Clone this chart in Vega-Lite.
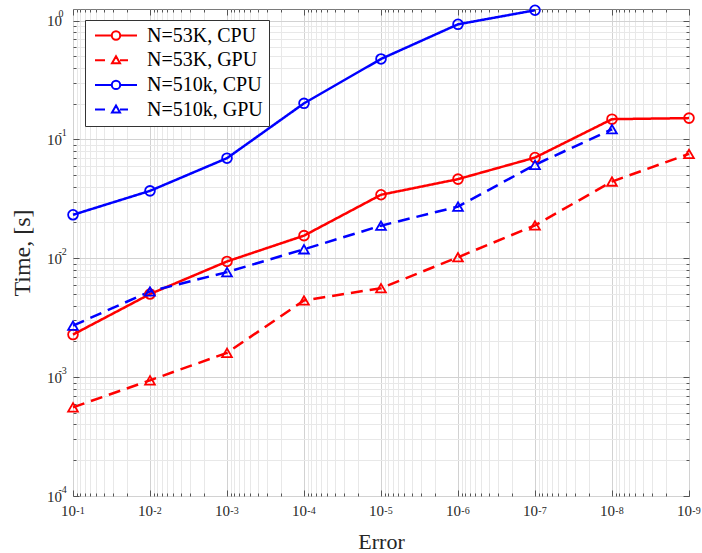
{
  "$schema": "https://vega.github.io/schema/vega-lite/v6.json",
  "width": 616,
  "height": 487,
  "autosize": {"type": "none"},
  "padding": {"left": 73, "top": 9, "right": 13, "bottom": 57},
  "background": "white",
  "config": {
    "view": {"stroke": "#7a7a7a", "strokeWidth": 1},
    "axis": {"labelFont": "Liberation Serif", "titleFont": "Liberation Serif", "labelColor": "#262626", "titleColor": "#262626", "titleFontWeight": "normal", "labelFlush": false, "labelOverlap": false, "labelBound": false, "domain": false}
  },
  "data": {"values": [
    {"series": "N=53K, CPU", "err": 1e-1, "time": 0.00228},
    {"series": "N=53K, CPU", "err": 1e-2, "time": 0.0050},
    {"series": "N=53K, CPU", "err": 1e-3, "time": 0.0094},
    {"series": "N=53K, CPU", "err": 1e-4, "time": 0.0155},
    {"series": "N=53K, CPU", "err": 1e-5, "time": 0.0342},
    {"series": "N=53K, CPU", "err": 1e-6, "time": 0.0463},
    {"series": "N=53K, CPU", "err": 1e-7, "time": 0.0703},
    {"series": "N=53K, CPU", "err": 1e-8, "time": 0.148},
    {"series": "N=53K, CPU", "err": 1e-9, "time": 0.151},
    {"series": "N=53K, GPU", "err": 1e-1, "time": 0.000557},
    {"series": "N=53K, GPU", "err": 1e-2, "time": 0.00094},
    {"series": "N=53K, GPU", "err": 1e-3, "time": 0.0016},
    {"series": "N=53K, GPU", "err": 1e-4, "time": 0.00442},
    {"series": "N=53K, GPU", "err": 1e-5, "time": 0.0056},
    {"series": "N=53K, GPU", "err": 1e-6, "time": 0.0102},
    {"series": "N=53K, GPU", "err": 1e-7, "time": 0.0189},
    {"series": "N=53K, GPU", "err": 1e-8, "time": 0.0442},
    {"series": "N=53K, GPU", "err": 1e-9, "time": 0.0755},
    {"series": "N=510k, CPU", "err": 1e-1, "time": 0.0232},
    {"series": "N=510k, CPU", "err": 1e-2, "time": 0.0369},
    {"series": "N=510k, CPU", "err": 1e-3, "time": 0.0695},
    {"series": "N=510k, CPU", "err": 1e-4, "time": 0.201},
    {"series": "N=510k, CPU", "err": 1e-5, "time": 0.475},
    {"series": "N=510k, CPU", "err": 1e-6, "time": 0.929},
    {"series": "N=510k, CPU", "err": 1e-7, "time": 1.22},
    {"series": "N=510k, GPU", "err": 1e-1, "time": 0.00271},
    {"series": "N=510k, GPU", "err": 1e-2, "time": 0.00526},
    {"series": "N=510k, GPU", "err": 1e-3, "time": 0.00765},
    {"series": "N=510k, GPU", "err": 1e-4, "time": 0.0119},
    {"series": "N=510k, GPU", "err": 1e-5, "time": 0.0188},
    {"series": "N=510k, GPU", "err": 1e-6, "time": 0.0272},
    {"series": "N=510k, GPU", "err": 1e-7, "time": 0.0611},
    {"series": "N=510k, GPU", "err": 1e-8, "time": 0.1217}
  ]},
  "layer": [
    {
      "mark": {"type": "line", "strokeWidth": 2.5},
      "encoding": {
        "x": {"field": "err", "type": "quantitative",
          "scale": {"type": "log", "domain": [1e-9, 0.1], "reverse": true, "nice": false},
          "axis": {"orient": "bottom",
            "values": [1e-9,2e-9,3e-9,4e-9,5e-9,6e-9,7e-9,8e-9,9e-9,1e-8,2e-8,3e-8,4e-8,5e-8,6e-8,7e-8,8e-8,9e-8,1e-7,2e-7,3e-7,4e-7,5e-7,6e-7,7e-7,8e-7,9e-7,1e-6,2e-6,3e-6,4e-6,5e-6,6e-6,7e-6,8e-6,9e-6,1e-5,2e-5,3e-5,4e-5,5e-5,6e-5,7e-5,8e-5,9e-5,1e-4,2e-4,3e-4,4e-4,5e-4,6e-4,7e-4,8e-4,9e-4,1e-3,2e-3,3e-3,4e-3,5e-3,6e-3,7e-3,8e-3,9e-3,1e-2,2e-2,3e-2,4e-2,5e-2,6e-2,7e-2,8e-2,9e-2,0.1],
            "grid": true,
            "gridColor": {"condition": {"test": "abs(log(datum.value)/LN10 - round(log(datum.value)/LN10)) < 0.001", "value": "#d2d2d2"}, "value": "#e8e8e8"},
            "ticks": true, "tickColor": "#555555",
            "tickSize": {"condition": {"test": "abs(log(datum.value)/LN10 - round(log(datum.value)/LN10)) < 0.001", "value": -6}, "value": -3},
            "labelExpr": "abs(log(datum.value)/LN10 - round(log(datum.value)/LN10)) < 0.001 ? '10' : ''",
            "labelFontSize": 15, "labelOffset": -5, "labelPadding": 13, "labelBaseline": "top",
            "title": "Error", "titleFontSize": 22, "titleX": 308, "titleY": 52, "titleBaseline": "alphabetic"}
        },
        "y": {"field": "time", "type": "quantitative",
          "scale": {"type": "log", "domain": [1e-4, 1.25], "nice": false},
          "axis": {"orient": "left",
            "values": [1e-4,2e-4,3e-4,4e-4,5e-4,6e-4,7e-4,8e-4,9e-4,1e-3,2e-3,3e-3,4e-3,5e-3,6e-3,7e-3,8e-3,9e-3,0.01,0.02,0.03,0.04,0.05,0.06,0.07,0.08,0.09,0.1,0.2,0.3,0.4,0.5,0.6,0.7,0.8,0.9,1],
            "grid": true,
            "gridColor": {"condition": {"test": "abs(log(datum.value)/LN10 - round(log(datum.value)/LN10)) < 0.001", "value": "#d2d2d2"}, "value": "#e8e8e8"},
            "ticks": true, "tickColor": "#555555",
            "tickSize": {"condition": {"test": "abs(log(datum.value)/LN10 - round(log(datum.value)/LN10)) < 0.001", "value": -6}, "value": -3},
            "labelExpr": "abs(log(datum.value)/LN10 - round(log(datum.value)/LN10)) < 0.001 ? '10' : ''",
            "labelFontSize": 15, "labelPadding": 17.5, "labelAlign": "right", "labelBaseline": "middle",
            "title": "Time, [s]", "titleFontSize": 24, "titleX": -44, "titleY": 243.5, "titleAngle": -90, "titleBaseline": "alphabetic"}
        },
        "color": {"field": "series", "type": "nominal",
          "scale": {"domain": ["N=53K, CPU", "N=53K, GPU", "N=510k, CPU", "N=510k, GPU"], "range": ["#ff0000", "#ff0000", "#0000ff", "#0000ff"]},
          "legend": null},
        "strokeDash": {"field": "series", "type": "nominal",
          "scale": {"domain": ["N=53K, CPU", "N=53K, GPU", "N=510k, CPU", "N=510k, GPU"], "range": [[1, 0], [12, 7], [1, 0], [12, 7]]},
          "legend": null}
      }
    },
    {
      "mark": {"type": "point", "filled": false, "strokeWidth": 1.8, "size": 95, "opacity": 1},
      "encoding": {
        "x": {"field": "err", "type": "quantitative",
          "axis": {"orient": "bottom", "values": [1e-9,1e-8,1e-7,1e-6,1e-5,1e-4,1e-3,1e-2,0.1],
            "grid": false, "ticks": false,
            "labelExpr": "'' + round(log(datum.value)/LN10)",
            "labelFontSize": 10, "labelOffset": 7, "labelAlign": "center", "labelPadding": 9, "labelBaseline": "top", "title": null}
        },
        "y": {"field": "time", "type": "quantitative",
          "axis": {"orient": "left", "values": [1e-4,1e-3,1e-2,0.1,1],
            "grid": false, "ticks": false,
            "labelExpr": "'' + round(log(datum.value)/LN10)",
            "labelFontSize": 10, "labelAlign": "left", "labelPadding": 15, "labelOffset": -7, "labelBaseline": "middle", "title": null}
        },
        "color": {"field": "series", "type": "nominal", "legend": null},
        "shape": {"field": "series", "type": "nominal",
          "scale": {"domain": ["N=53K, CPU", "N=53K, GPU", "N=510k, CPU", "N=510k, GPU"], "range": ["circle", "triangle-up", "circle", "triangle-up"]},
          "legend": null}
      }
    },
    {
      "mark": {"type": "point", "filled": false, "opacity": 0, "size": 100},
      "encoding": {
        "x": {"field": "err", "type": "quantitative",
          "axis": {"orient": "top",
            "values": [1e-9,2e-9,3e-9,4e-9,5e-9,6e-9,7e-9,8e-9,9e-9,1e-8,2e-8,3e-8,4e-8,5e-8,6e-8,7e-8,8e-8,9e-8,1e-7,2e-7,3e-7,4e-7,5e-7,6e-7,7e-7,8e-7,9e-7,1e-6,2e-6,3e-6,4e-6,5e-6,6e-6,7e-6,8e-6,9e-6,1e-5,2e-5,3e-5,4e-5,5e-5,6e-5,7e-5,8e-5,9e-5,1e-4,2e-4,3e-4,4e-4,5e-4,6e-4,7e-4,8e-4,9e-4,1e-3,2e-3,3e-3,4e-3,5e-3,6e-3,7e-3,8e-3,9e-3,1e-2,2e-2,3e-2,4e-2,5e-2,6e-2,7e-2,8e-2,9e-2,0.1],
            "grid": false, "labels": false, "title": null, "ticks": true, "tickColor": "#555555",
            "tickSize": {"condition": {"test": "abs(log(datum.value)/LN10 - round(log(datum.value)/LN10)) < 0.001", "value": -6}, "value": -3}}
        },
        "y": {"field": "time", "type": "quantitative",
          "axis": {"orient": "right",
            "values": [1e-4,2e-4,3e-4,4e-4,5e-4,6e-4,7e-4,8e-4,9e-4,1e-3,2e-3,3e-3,4e-3,5e-3,6e-3,7e-3,8e-3,9e-3,0.01,0.02,0.03,0.04,0.05,0.06,0.07,0.08,0.09,0.1,0.2,0.3,0.4,0.5,0.6,0.7,0.8,0.9,1],
            "grid": false, "labels": false, "title": null, "ticks": true, "tickColor": "#555555",
            "tickSize": {"condition": {"test": "abs(log(datum.value)/LN10 - round(log(datum.value)/LN10)) < 0.001", "value": -6}, "value": -3}}
        },
        "color": {"field": "series", "type": "nominal", "legend": null},
        "shape": {"field": "series", "type": "nominal",
          "scale": {"domain": ["N=53K, CPU", "N=53K, GPU", "N=510k, CPU", "N=510k, GPU"],
            "range": ["M-4.2,0H-0.84M0.84,0H4.2M0.84,0A0.84,0.84,0,1,1,-0.84,0A0.84,0.84,0,1,1,0.84,0",
                      "M-4.2,0H-2.2M0.8,0H2.4M0,-0.8L0.8,0.6L-0.8,0.6Z",
                      "M-4.2,0H-0.84M0.84,0H4.2M0.84,0A0.84,0.84,0,1,1,-0.84,0A0.84,0.84,0,1,1,0.84,0",
                      "M-4.2,0H-2.2M0.8,0H2.4M0,-0.8L0.8,0.6L-0.8,0.6Z"]},
          "legend": {"orient": "none", "legendX": 12, "legendY": 11, "title": null,
            "fillColor": "white", "strokeColor": "#333333", "padding": 5.5,
            "symbolSize": 100, "symbolStrokeWidth": 2, "symbolOffset": 15.5, "labelOffset": 21,
            "symbolOpacity": 1, "symbolFillColor": "transparent",
            "symbolStrokeColor": {"expr": "indexof(datum.value, '53K') >= 0 ? '#ff0000' : '#0000ff'"},
            "labelFont": "Liberation Serif", "labelFontSize": 20, "labelColor": "#000000",
            "rowPadding": 4.7, "labelLimit": 300}}
      }
    }
  ],
  "resolve": {"axis": {"x": "independent", "y": "independent"}, "scale": {"shape": "independent"}}
}
